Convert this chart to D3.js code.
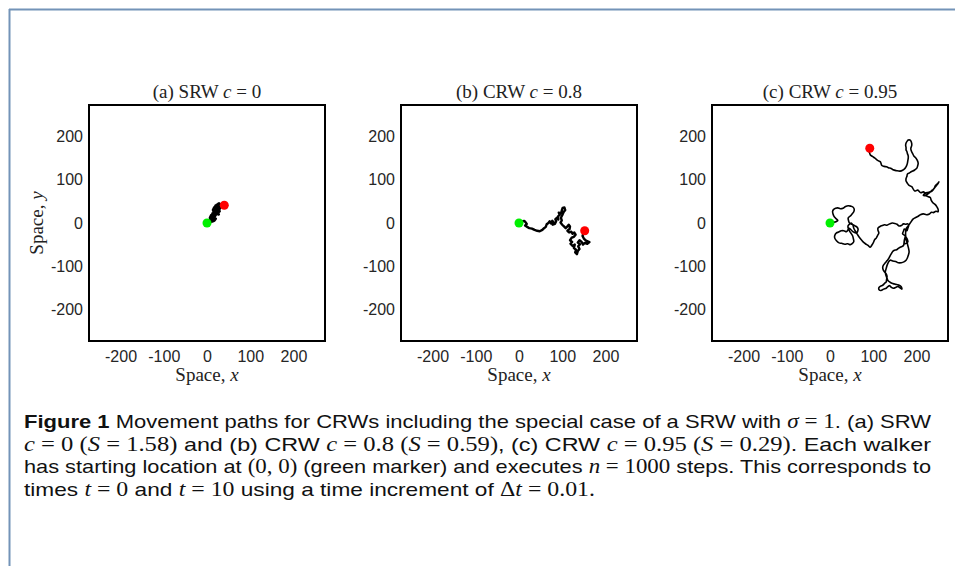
<!DOCTYPE html>
<html>
<head>
<meta charset="utf-8">
<script src="https://cdn.jsdelivr.net/npm/d3@7/dist/d3.min.js"></script>
<style>
  html, body { margin: 0; padding: 0; background: #fff; }
  svg { display: block; }
</style>
</head>
<body>
<script>
// ---------------- data ----------------
const tickValues = [-200, -100, 0, 100, 200];
const panelLabels = ["(a) SRW", "(b) CRW", "(c) CRW"];
const cValues = ["0", "0.8", "0.95"];

// (a) SRW c = 0 : path (x, y), start at green, end at red
const pathA = [
  [0,0],[4,3],[8,2],[6,7],[10,6],[9,11],[13,9],[11,14],[7,12],[10,18],[14,16],[13,22],[17,20],
  [15,27],[19,25],[18,31],[14,30],[17,36],[21,33],[20,40],[24,38],[26,44],[29,40],[25,36],
  [30,36],[32,42],[28,45],[23,42],[19,38],[22,30],[26,32],[29,27],[24,25],[27,20],[22,22],
  [19,17],[16,12],[20,10],[17,6],[13,4],[16,14],[20,19],[24,28],[28,31],[31,37],[34,41],
  [37,39],[40,41]
];
// (b) CRW c = 0.8
const pathB = [
  [0,0],[6,3],[12,5],[15,2],[18,-2],[14,-6],[19,-9],[24,-12],[30,-13],[36,-16],[42,-18],
  [48,-19],[54,-16],[58,-12],[62,-9],[64,-3],[68,0],[71,4],[74,-1],[77,5],[80,1],[78,-4],
  [83,-2],[86,4],[84,9],[88,12],[91,8],[90,15],[94,19],[92,24],[97,22],[99,29],[101,35],
  [105,36],[107,30],[103,25],[100,18],[97,12],[99,6],[96,1],[100,-4],[104,-8],[108,-12],
  [112,-8],[115,-4],[118,-8],[117,-14],[112,-18],[116,-22],[121,-20],[124,-25],[128,-22],
  [131,-27],[127,-32],[122,-34],[118,-40],[123,-44],[119,-48],[124,-53],[129,-50],[127,-58],
  [132,-62],[130,-68],[134,-72],[136,-65],[140,-60],[137,-54],[141,-49],[136,-45],[140,-40],
  [145,-44],[148,-50],[152,-46],[158,-48],[163,-44],[155,-41],[150,-36],[147,-30],[149,-24],
  [152,-18]
];
// (c) CRW c = 0.95
const pathC = [
  [0,0],[6,2],[11,2],[16,4],[18,6],[13,11],[9,16],[7,21],[6,27],[8,31],[13,34],[18,35],
  [24,33],[30,34],[36,38],[42,40],[48,39],[53,37],[56,32],[55,26],[51,21],[48,17],[44,14],
  [42,11],[43,5],[45,0],[51,-3],[57,-6],[62,-9],[65,-14],[64,-19],[62,-23],[57,-22],[53,-20],
  [48,-15],[44,-12],[41,-17],[38,-20],[32,-18],[26,-18],[20,-21],[15,-23],[11,-29],[11,-35],
  [15,-41],[21,-46],[27,-47],[34,-49],[41,-48],[47,-50],[52,-47],[55,-43],[54,-36],[52,-29],
  [48,-23],[45,-18],[42,-12],[42,-6],[46,-2],[49,0],[53,-5],[55,-12],[60,-21],[65,-29],
  [70,-36],[76,-43],[82,-48],[88,-52],[93,-56],[97,-51],[101,-44],[103,-39],[107,-35],
  [110,-29],[113,-23],[111,-17],[111,-12],[116,-8],[121,-6],[126,-4],[132,-5],[138,-2],
  [144,0],[150,-1],[155,-3],[160,-7],[165,-6],[170,-2],[175,-3],[180,-2],[182,-6],[180,-12],
  [178,-18],[172,-14],[170,-19],[168,-25],[173,-29],[176,-33],[179,-38],[180,-44],[176,-47],
  [172,-48],[173,-38],[175,-29],[172,-40],[170,-52],[165,-55],[159,-58],[154,-62],[149,-63],
  [145,-66],[142,-71],[139,-76],[136,-82],[132,-87],[128,-92],[124,-97],[122,-102],[123,-108],
  [126,-113],[130,-118],[132,-124],[131,-130],[130,-136],[126,-140],[122,-144],[117,-146],
  [113,-150],[114,-155],[118,-156],[124,-153],[130,-151],[134,-147],[138,-145],[142,-149],
  [147,-151],[152,-149],[157,-147],[162,-150],[166,-153],[165,-148],[162,-145],[157,-143],
  [152,-142],[145,-140],[139,-137],[134,-133],[132,-128],[129,-120],[128,-113],[130,-105],
  [132,-98],[135,-91],[139,-86],[145,-88],[152,-89],[158,-92],[165,-92],[171,-90],[176,-86],
  [179,-81],[181,-75],[183,-67],[182,-60],[180,-52],[178,-44],[176,-36],[175,-29],[175,-21],
  [176,-14],[179,-9],[182,-5],[187,2],[192,9],[197,12],[203,15],[209,19],[216,21],[223,19],
  [230,21],[235,25],[239,24],[245,27],[250,26],[250,32],[247,38],[243,43],[238,47],[234,53],
  [232,59],[227,61],[222,63],[216,64],[219,68],[222,70],[229,71],[236,74],[241,80],[244,87],
  [249,91],[252,95],[248,89],[244,84],[239,78],[234,74],[229,69],[224,66],[220,69],[216,72],
  [210,70],[203,76],[196,74],[189,84],[183,87],[179,92],[176,97],[176,103],[178,108],
  [179,113],[184,116],[189,119],[195,122],[201,127],[203,133],[204,138],[202,145],[199,150],
  [194,155],[191,161],[188,167],[187,173],[189,179],[189,184],[187,190],[185,192],[181,192],
  [179,190],[176,185],[175,180],[176,174],[176,169],[178,165],[179,161],[181,155],[181,150],
  [180,144],[179,138],[177,132],[174,127],[168,122],[162,120],[154,121],[146,123],[142,126],
  [139,127],[135,128],[131,130],[125,131],[120,133],[118,138],[116,142],[110,145],[104,150],
  [98,154],[93,158],[92,161],[90,166],[92,173]
];
const paths = [pathA, pathB, pathC];

// caption segments: [text, style]  b=bold sans, s=sans, m=math italic, r=math roman
const captionLines = [
  [["Figure 1","b"],[" Movement paths for CRWs including the special case of a SRW with ","s"],["σ","m"],[" = 1","r"],[". (a) SRW","s"]],
  [["c","m"],[" = 0 (","r"],["S","m"],[" = 1.58)","r"],[" and (b) CRW ","s"],["c","m"],[" = 0.8 (","r"],["S","m"],[" = 0.59)","r"],[", (c) CRW ","s"],["c","m"],[" = 0.95 (","r"],["S","m"],[" = 0.29)","r"],[". Each walker","s"]],
  [["has starting location at ","s"],["(0, 0)","r"],[" (green marker) and executes ","s"],["n","m"],[" = 1000","r"],[" steps. This corresponds to","s"]],
  [["times ","s"],["t","m"],[" = 0","r"],[" and ","s"],["t","m"],[" = 10","r"],[" using a time increment of ","s"],["Δ","r"],["t","m"],[" = 0.01.","r"]]
];

// ---------------- layout ----------------
const W = 955, H = 566;
const svg = d3.select("body").append("svg").attr("width", W).attr("height", H);

// page border
svg.append("line").attr("x1", 9).attr("x2", W).attr("y1", 9.5).attr("y2", 9.5)
  .attr("stroke", "#7393b8").attr("stroke-width", 2);
svg.append("line").attr("x1", 9.5).attr("x2", 9.5).attr("y1", 9).attr("y2", H)
  .attr("stroke", "#7393b8").attr("stroke-width", 2);

const panelLeft = [89, 401, 712];
const panelTop = 105, size = 236;
const domain = [-273, 273];
const sansFont = "'Liberation Sans', Arial, Helvetica, sans-serif";
const serifFont = "'Liberation Serif', 'Times New Roman', serif";
const strokeW = [2.8, 2.4, 1.6];

paths.forEach((pts, i) => {
  const g = svg.append("g").attr("transform", `translate(${panelLeft[i]},${panelTop})`);
  const x = d3.scaleLinear().domain(domain).range([0, size]);
  const y = d3.scaleLinear().domain(domain).range([size, 0]);

  const clipId = "clip" + i;
  g.append("clipPath").attr("id", clipId).append("rect").attr("width", size).attr("height", size);

  // axes
  const fmt = d => String(d);
  const ax = g.append("g").attr("transform", `translate(0,${size})`)
    .call(d3.axisBottom(x).tickValues(tickValues).tickFormat(fmt).tickSize(0).tickPadding(10));
  const ay = g.append("g")
    .call(d3.axisLeft(y).tickValues(tickValues).tickFormat(fmt).tickSize(0).tickPadding(6));
  [ax, ay].forEach(a => {
    a.select(".domain").remove();
    a.selectAll("text").attr("font-family", sansFont).attr("font-size", 16).attr("fill", "#262626");
  });

  // path
  const line = d3.line().x(d => x(d[0])).y(d => y(d[1]))
    .curve(i === 2 ? d3.curveCatmullRom.alpha(0.5) : d3.curveLinear);
  g.append("path").datum(pts).attr("d", line).attr("clip-path", `url(#${clipId})`)
    .attr("fill", "none").attr("stroke", "#000")
    .attr("stroke-width", strokeW[i]).attr("stroke-linejoin", "round");

  // markers
  const start = pts[0], end = pts[pts.length - 1];
  g.append("circle").attr("cx", x(start[0])).attr("cy", y(start[1])).attr("r", 4.5).attr("fill", "#00f000");
  g.append("circle").attr("cx", x(end[0])).attr("cy", y(end[1])).attr("r", 4.5).attr("fill", "#ff0000");

  // frame
  g.append("rect").attr("width", size).attr("height", size)
    .attr("fill", "none").attr("stroke", "#000").attr("stroke-width", 2);

  // title
  const t = g.append("text").attr("x", size / 2).attr("y", -7).attr("text-anchor", "middle")
    .attr("font-family", serifFont).attr("font-size", 19).attr("fill", "#222");
  t.append("tspan").text(panelLabels[i] + " ");
  t.append("tspan").attr("font-style", "italic").text("c");
  t.append("tspan").text(" = " + cValues[i]);

  // x label
  const xl = g.append("text").attr("x", size / 2).attr("y", size + 40).attr("text-anchor", "middle")
    .attr("font-family", serifFont).attr("font-size", 19).attr("fill", "#222");
  xl.append("tspan").text("Space, ");
  xl.append("tspan").attr("font-style", "italic").text("x");

  if (i === 0) {
    const yl = g.append("text").attr("transform", `translate(${-46},${size / 2}) rotate(-90)`)
      .attr("text-anchor", "middle")
      .attr("font-family", serifFont).attr("font-size", 19).attr("fill", "#222");
    yl.append("tspan").text("Space, ");
    yl.append("tspan").attr("font-style", "italic").text("y");
  }
});

// caption
const capBase = [428, 450.5, 473, 495.5];
const capLen = [907, 907, 907, 571];
captionLines.forEach((segs, li) => {
  const t = svg.append("text").attr("x", 24).attr("y", capBase[li])
    .attr("font-size", 19).attr("fill", "#111")
    .attr("textLength", capLen[li]).attr("lengthAdjust", "spacingAndGlyphs");
  segs.forEach(([txt, st]) => {
    const s = t.append("tspan").text(txt);
    if (st === "b") s.attr("font-family", sansFont).attr("font-weight", "bold");
    else if (st === "s") s.attr("font-family", sansFont);
    else if (st === "m") s.attr("font-family", serifFont).attr("font-style", "italic").attr("font-size", 20);
    else s.attr("font-family", serifFont).attr("font-size", 20);
  });
});
</script>
</body>
</html>
